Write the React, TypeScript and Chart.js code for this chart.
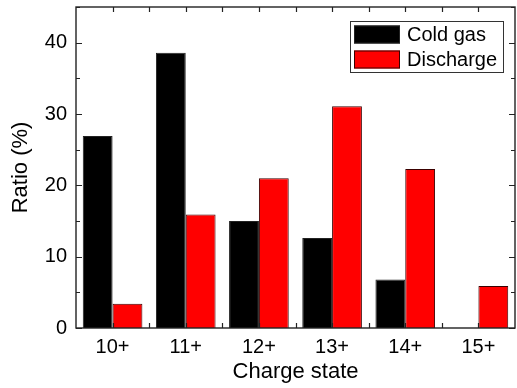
import React, { useEffect, useRef } from "react";
import { Chart, registerables } from "chart.js";

Chart.register(...registerables);

const categories = ["10+", "11+", "12+", "13+", "14+", "15+"];
const coldGas = [26.9, 38.6, 15.0, 12.6, 6.8, 0];
const discharge = [3.4, 15.9, 21.0, 31.1, 22.3, 5.9];
const seriesNames = ["Cold gas", "Discharge"];
const yMin = 0;
const yMax = 45;
const yMajorStep = 10;
const yMinorStep = 5;

const FONT = "'Liberation Sans', Arial, sans-serif";

const framePlugin = {
  id: "frameTicks",
  afterDatasetsDraw(chart: any) {
    const { ctx, chartArea } = chart;
    const xs = chart.scales.x;
    const ys = chart.scales.y;
    const { left, right, top, bottom } = chartArea;
    ctx.save();
    ctx.strokeStyle = "#222";
    ctx.lineWidth = 1.4;
    ctx.strokeRect(left, top, right - left, bottom - top);
    ctx.lineWidth = 1.2;
    for (let v = yMin; v <= yMax + 1e-9; v += yMinorStep) {
      const py = Math.round(ys.getPixelForValue(v)) + 0.5;
      const major = Math.abs(v % yMajorStep) < 1e-9;
      const len = major ? 6 : 4;
      ctx.beginPath();
      ctx.moveTo(left, py);
      ctx.lineTo(left + len, py);
      ctx.moveTo(right, py);
      ctx.lineTo(right - len, py);
      ctx.stroke();
    }
    const n = categories.length;
    const positions: number[] = [];
    for (let i = 0; i < n; i++) {
      positions.push(xs.getPixelForValue(i));
      if (i < n - 1) positions.push((xs.getPixelForValue(i) + xs.getPixelForValue(i + 1)) / 2);
    }
    for (const p of positions) {
      const px = Math.round(p) + 0.5;
      ctx.beginPath();
      ctx.moveTo(px, top);
      ctx.lineTo(px, top + 5);
      ctx.moveTo(px, bottom);
      ctx.lineTo(px, bottom - 5);
      ctx.stroke();
    }
    ctx.restore();
  },
  afterDraw(chart: any) {
    const { ctx, chartArea } = chart;
    const boxRight = chartArea.right - 12;
    const boxTop = chartArea.top + 14;
    const boxW = 153;
    const boxH = 51;
    const boxLeft = boxRight - boxW;
    ctx.save();
    ctx.fillStyle = "#fff";
    ctx.fillRect(boxLeft, boxTop, boxW, boxH);
    ctx.strokeStyle = "#333";
    ctx.lineWidth = 1;
    ctx.strokeRect(Math.round(boxLeft) + 0.5, Math.round(boxTop) + 0.5, boxW, boxH);
    ctx.font = `20px ${FONT}`;
    ctx.textBaseline = "middle";
    ctx.textAlign = "left";
    chart.data.datasets.forEach((ds: any, i: number) => {
      const sy = boxTop + 4.5 + i * 25;
      ctx.fillStyle = ds.backgroundColor;
      ctx.fillRect(boxLeft + 4, sy, 46, 18);
      ctx.strokeStyle = ds.borderColor;
      ctx.lineWidth = 1;
      ctx.strokeRect(boxLeft + 4 + 0.5, sy + 0.5, 45, 17);
      ctx.fillStyle = "#000";
      ctx.fillText(ds.label, boxLeft + 57, sy + 9.5);
    });
    ctx.restore();
  },
};

export default function App() {
  const ref = useRef<HTMLCanvasElement | null>(null);
  useEffect(() => {
    document.body.style.margin = "0";
    const canvas = ref.current!;
    const chart = new Chart(canvas, {
      type: "bar",
      data: {
        labels: categories,
        datasets: [
          {
            label: seriesNames[0],
            data: coldGas,
            backgroundColor: "#000000",
            borderColor: "#222222",
            borderWidth: 1,
            categoryPercentage: 0.815,
            barPercentage: 1,
          },
          {
            label: seriesNames[1],
            data: discharge,
            backgroundColor: "#ff0000",
            borderColor: "#3a0000",
            borderWidth: 1,
            categoryPercentage: 0.815,
            barPercentage: 1,
          },
        ],
      },
      options: {
        responsive: false,
        animation: false,
        layout: { padding: { top: 7, right: 2, left: 0, bottom: 0 } },
        plugins: { legend: { display: false }, tooltip: { enabled: false } },
        scales: {
          x: {
            grid: { display: false, drawTicks: false },
            border: { display: false },
            ticks: { color: "#000", font: { family: FONT, size: 20 }, padding: 7 },
            title: {
              display: true,
              text: "Charge state",
              color: "#000",
              font: { family: FONT, size: 22 },
              padding: { top: 0, bottom: 3 },
            },
            afterFit: (s: any) => {
              s.height = 60;
              s.paddingLeft = 0;
              s.paddingRight = 0;
            },
          },
          y: {
            min: yMin,
            max: yMax,
            grid: { display: false, drawTicks: false },
            border: { display: false },
            ticks: {
              stepSize: yMajorStep,
              color: "#000",
              font: { family: FONT, size: 20 },
              padding: 9,
            },
            afterBuildTicks: (s: any) => {
              s.ticks = s.ticks.filter((t: any) => Math.abs(t.value % yMajorStep) < 1e-9);
            },
            title: {
              display: true,
              text: "Ratio (%)",
              color: "#000",
              font: { family: FONT, size: 22 },
              padding: { top: 8, bottom: 0 },
            },
            afterFit: (s: any) => {
              s.width = 76;
              s.paddingTop = 0;
              s.paddingBottom = 0;
            },
          },
        },
      },
      plugins: [framePlugin],
    });
    return () => chart.destroy();
  }, []);
  return (
    <div style={{ width: 517, height: 388 }}>
      <canvas ref={ref} width={517} height={388} />
    </div>
  );
}
